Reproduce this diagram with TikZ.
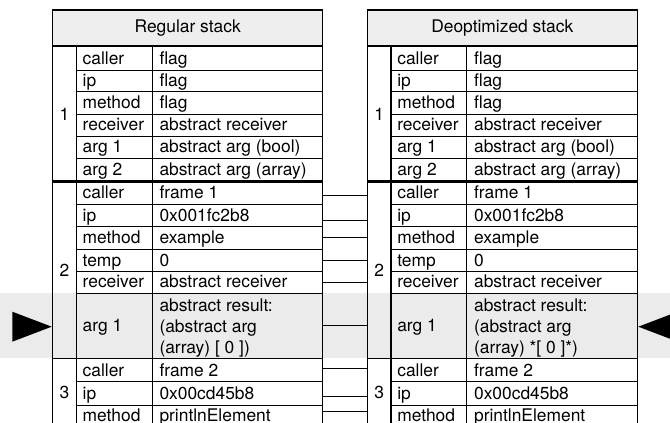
\documentclass[tikz,border=0pt]{standalone}
\usepackage{fontspec}
\setmainfont{TeX Gyre Heros}
\definecolor{headgray}{HTML}{EEEEEE}
\definecolor{bandgray}{HTML}{EBEBEB}
\newcommand\cellfont{\fontsize{17.4pt}{21.3pt}\selectfont}

\tikzset{
  cellbox/.style={draw, line width=0.9pt, inner sep=0pt, outer sep=0pt, rectangle},
  frameouter/.style={draw, line width=1.4pt, inner sep=0pt, outer sep=0pt, rectangle},
  numcol/.style={draw, line width=1.4pt, inner sep=0pt, outer sep=0pt, rectangle, font=\cellfont},
  headbox/.style={draw, line width=1.4pt, fill=headgray, inner sep=0pt, outer sep=0pt,
    minimum width=270pt, minimum height=35.7pt, font=\cellfont},
  slottext/.style={anchor=base west, inner sep=0pt, font=\cellfont},
  link/.style={line width=0.9pt},
}

% one slot of a frame: name cell and value cell
% #1 x offset, #2 node id, #3 top, #4 bottom, #5 slot name, #6 slot value
\newcommand\slotrow[6]{%
  \node[cellbox, minimum width=76pt, minimum height={(#4-#3)*1pt}] (#2-n) at ({#1+114.3},{(#3+#4)/2}) {};
  \node[cellbox, minimum width=170.4pt, minimum height={(#4-#3)*1pt}] (#2-v) at ({#1+237.5},{(#3+#4)/2}) {};
  \node[slottext] (#2-nt) at ([xshift=6.2pt,yshift=5.6pt]#2-n.south west) {#5};
  \node[slottext] (#2-vt) at ([xshift=7pt,yshift=5.6pt]#2-v.south west) {#6};
}

% outer border of a frame with its number column
% #1 x offset, #2 id, #3 top, #4 bottom, #5 frame number
\newcommand\stackframe[5]{%
  \node[frameouter, minimum width=270pt, minimum height={(#4-#3)*1pt}] (#2) at ({#1+187.7},{(#3+#4)/2}) {};
  \node[numcol, minimum width=23.6pt, minimum height={(#4-#3)*1pt}] (#2-num) at ({#1+64.5},{(#3+#4)/2}) {#5};
}

% a whole stack: #1 prefix, #2 x offset, #3 title, #4 last line of the arg 1 value
\newcommand\stackcolumn[4]{%
  \node[headbox] (#1-head) at ({#2+187.7},27.85) {#3};
  % frame 1
  \slotrow{#2}{#1-1a}{46.7}{70}{caller}{flag}
  \slotrow{#2}{#1-1b}{70}{91.7}{ip}{flag}
  \slotrow{#2}{#1-1c}{91.7}{114}{method}{flag}
  \slotrow{#2}{#1-1d}{114}{136}{receiver}{abstract receiver}
  \slotrow{#2}{#1-1e}{136}{158.3}{arg 1}{abstract arg (bool)}
  \slotrow{#2}{#1-1f}{158.3}{181}{arg 2}{abstract arg (array)}
  \stackframe{#2}{#1-1}{46.7}{181}{1}
  % frame 2
  \slotrow{#2}{#1-2a}{182.3}{204.3}{caller}{frame 1}
  \slotrow{#2}{#1-2b}{204.3}{226.7}{ip}{0x001fc2b8}
  \slotrow{#2}{#1-2c}{226.7}{249}{method}{example}
  \slotrow{#2}{#1-2d}{249}{271.7}{temp}{0}
  \slotrow{#2}{#1-2e}{271.7}{293.3}{receiver}{abstract receiver}
  \node[cellbox, minimum width=76pt, minimum height=65pt] (#1-2f-n) at ({#2+114.3},325.8) {};
  \node[cellbox, minimum width=170.4pt, minimum height=65pt] (#1-2f-v) at ({#2+237.5},325.8) {};
  \node[slottext] (#1-2f-nt) at ([xshift=6.2pt,yshift=-5.9pt]#1-2f-n.west) {arg 1};
  \node[slottext] (#1-2f-l1) at ([xshift=7pt,yshift=47pt]#1-2f-v.south west) {abstract result:};
  \node[slottext] (#1-2f-l2) at ([xshift=7pt,yshift=25.6pt]#1-2f-v.south west) {(abstract arg};
  \node[slottext] (#1-2f-l3) at ([xshift=7pt,yshift=4.6pt]#1-2f-v.south west) {#4};
  \stackframe{#2}{#1-2}{182.3}{358.3}{2}
  % frame 3
  \slotrow{#2}{#1-3a}{358.3}{381.7}{caller}{frame 2}
  \slotrow{#2}{#1-3b}{381.7}{405}{ip}{0x00cd45b8}
  \slotrow{#2}{#1-3c}{405}{427}{method}{printlnElement}
  \stackframe{#2}{#1-3}{358.3}{427}{3}
}

\begin{document}
\begin{tikzpicture}[x=1pt, y=-1pt]
  \path[use as bounding box] (0,0) rectangle (670,423);
  \clip (0,0) rectangle (670,423);
  \fill[white] (0,0) rectangle (670,423);
  % highlighted slot across the whole width
  \fill[bandgray] (0,293.3) rectangle (670,358.3);

  \stackcolumn{L}{0}{Regular stack}{(array) [ 0 ])}
  \stackcolumn{R}{314.6}{Deoptimized stack}{(array) *[ 0 ]*)}

  % slot links between the two stacks
  \foreach \row/\reg/\dy in {2a/2/-2.4, 2b/2/-4.5, 2c/2/0.5, 2d/2/0.35, 2e/2/0,
                              2f/2/0.8, 3a/3/1.7, 3b/3/-2.65, 3c/3/4.3}{
    \coordinate (tap-\row) at ([yshift=\dy pt]L-\row-v.east);
    \draw[link] (tap-\row) -- (tap-\row -| R-\reg.west);
  }

  % pointers to the current slot
  \fill (12.3,311.7) -- (51.7,326.7) -- (12.3,341.7) -- cycle;
  \fill (677.7,311.7) -- (638.3,326.7) -- (677.7,341.7) -- cycle;
\end{tikzpicture}
\end{document}
